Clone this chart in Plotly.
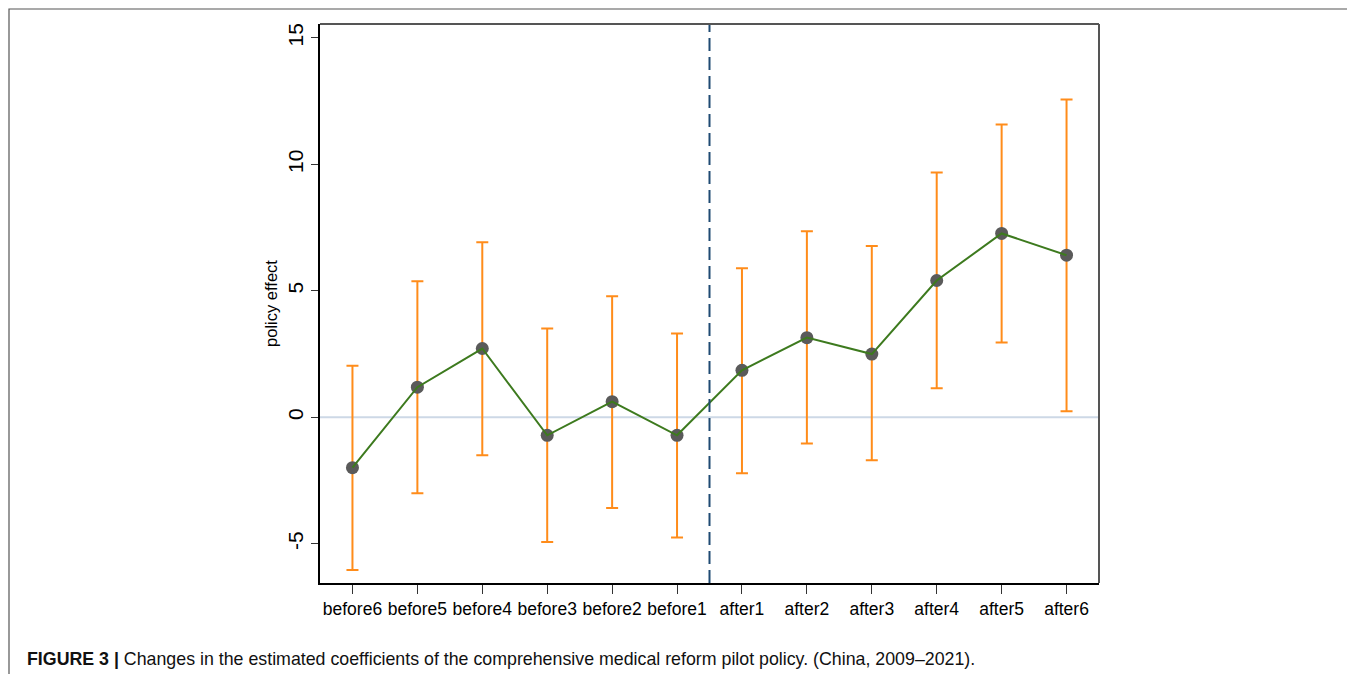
import plotly.graph_objects as go

periods = ["before6", "before5", "before4", "before3", "before2", "before1",
           "after1", "after2", "after3", "after4", "after5", "after6"]
estimate = [-1.99, 1.19, 2.72, -0.71, 0.62, -0.71, 1.86, 3.15, 2.50, 5.41, 7.27, 6.41]
ci_upper = [2.04, 5.38, 6.92, 3.51, 4.79, 3.31, 5.89, 7.36, 6.77, 9.68, 11.58, 12.57]
ci_lower = [-6.04, -3.00, -1.50, -4.93, -3.58, -4.75, -2.21, -1.03, -1.70, 1.15, 2.96, 0.24]
y_ticks = [-5, 0, 5, 10, 15]
caption_bold = "FIGURE 3 |"
caption_text = " Changes in the estimated coefficients of the comprehensive medical reform pilot policy. (China, 2009–2021)."

x_idx = list(range(len(periods)))
err_plus = [u - e for u, e in zip(ci_upper, estimate)]
err_minus = [e - l for e, l in zip(estimate, ci_lower)]

FONT = "Liberation Sans, Arial, sans-serif"

# page is offset by 8px body margin; figure is sized to fit the window
W, H = 1347, 666
L, R, T, B = 312, 256, 16, 91
PW = W - L - R
PH = H - T - B


def px(x):
    return (x - 8 - L) / PW


def py(y):
    return (H - B - (y - 8)) / PH


fig = go.Figure()
fig.add_trace(go.Scatter(
    x=x_idx, y=estimate, mode="markers",
    marker=dict(size=13, color="#5a5a5a"),
    error_y=dict(type="data", symmetric=False, array=err_plus, arrayminus=err_minus,
                 color="#ff8c1a", thickness=2, width=6),
    showlegend=False, hoverinfo="skip",
))
fig.add_trace(go.Scatter(
    x=x_idx, y=estimate, mode="lines",
    line=dict(color="#3d7a1e", width=2),
    showlegend=False, hoverinfo="skip",
))

# zero reference line
fig.add_shape(type="line", xref="paper", yref="y", x0=0, x1=1, y0=0, y1=0,
              line=dict(color="#cdd8e6", width=2), layer="below")
# treatment boundary
fig.add_shape(type="line", xref="x", yref="paper", x0=5.5, x1=5.5, y0=0, y1=1,
              line=dict(color="#1f4a73", width=2, dash="13px,6px"))
# plot frame top/right
fig.add_shape(type="line", xref="paper", yref="paper", x0=0, x1=1, y0=1, y1=1,
              line=dict(color="#555555", width=2))
fig.add_shape(type="line", xref="paper", yref="paper", x0=1, x1=1, y0=0, y1=1,
              line=dict(color="#555555", width=2))
# outer page frame
fig.add_shape(type="rect", xref="paper", yref="paper",
              x0=px(9), x1=px(1353.5), y0=py(700), y1=py(9),
              line=dict(color="#555555", width=1.2), fillcolor="rgba(0,0,0,0)")

fig.add_annotation(
    xref="paper", yref="paper",
    x=px(25), y=py(659), xanchor="left", yanchor="middle",
    text="<b>" + caption_bold + "</b>" + caption_text,
    showarrow=False, font=dict(family=FONT, size=17.8, color="#111111"),
)

fig.update_layout(
    width=W, height=H,
    margin=dict(l=L, r=R, t=T, b=B),
    paper_bgcolor="white", plot_bgcolor="white",
    font=dict(family=FONT, color="black"),
    xaxis=dict(
        range=[-0.5, 11.5], tickmode="array", tickvals=x_idx, ticktext=periods,
        showgrid=False, zeroline=False,
        showline=True, linecolor="black", linewidth=2,
        ticks="outside", ticklen=9, tickwidth=1.2, tickcolor="#333333",
        tickfont=dict(size=17.5, color="black", family=FONT),
    ),
    yaxis=dict(
        range=[-6.55, 15.55], tickmode="array", tickvals=y_ticks,
        ticktext=[str(v) for v in y_ticks],
        showgrid=False, zeroline=False,
        showline=True, linecolor="black", linewidth=2,
        ticks="outside", ticklen=7, tickwidth=1.2, tickcolor="#333333",
        tickangle=-90,
        tickfont=dict(size=21, color="black", family=FONT),
        title=dict(text="policy effect", font=dict(size=16.5, color="black", family=FONT), standoff=2),
    ),
)

fig.write_html("out.html")
